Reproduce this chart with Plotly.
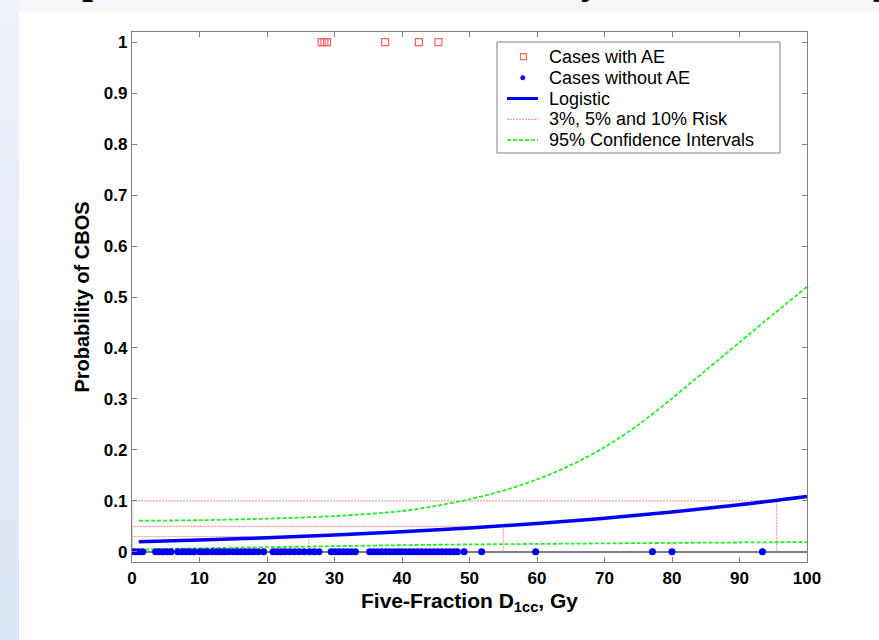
import plotly.graph_objects as go

# ---------------- data ----------------
ae_dose = [28.1, 28.5, 28.9, 37.5, 42.5, 45.4]
ae_prob = [1, 1, 1, 1, 1, 1]

no_ae_dose = [0.0, 0.5, 1.0, 1.6, 3.5, 4.0, 4.6, 5.2, 5.8, 6.8, 7.4, 8.0, 8.6, 9.2,
              10.0, 10.6, 11.2, 11.9, 12.5, 13.1, 13.7, 14.3, 15.0, 15.6, 16.2, 16.8,
              17.4, 18.0, 18.7, 19.5, 20.9, 21.5, 22.1, 22.7, 23.4, 24.1, 24.8, 25.5,
              26.3, 27.0, 27.7, 29.5, 30.1, 30.7, 31.3, 31.9, 32.5, 33.1, 35.2, 35.8,
              36.4, 37.0, 37.6, 38.2, 38.8, 39.4, 39.9, 40.5, 41.1, 41.7, 42.3, 42.9,
              43.5, 44.1, 44.7, 45.3, 45.9, 46.5, 47.1, 47.7, 48.2, 49.2, 51.8, 59.8,
              77.1, 80.0, 93.4]
no_ae_prob = [0] * len(no_ae_dose)

fit_dose = [1, 10, 20, 30, 40, 50, 60, 70, 80, 90, 100]
fit_prob = [0.0196, 0.0231, 0.0275, 0.0329, 0.0392, 0.0467, 0.0555, 0.0658, 0.0780,
            0.0922, 0.1087]

ci_dose = [1, 10, 20, 30, 40, 45, 50, 55, 60, 65, 70, 75, 80, 85, 90, 95, 100]
ci_upper = [0.061, 0.062, 0.065, 0.070, 0.080, 0.090, 0.103, 0.120, 0.142, 0.170,
            0.205, 0.249, 0.301, 0.356, 0.411, 0.466, 0.520]
ci_lower = [0.004, 0.007, 0.009, 0.011, 0.013, 0.0138, 0.0145, 0.015, 0.0155, 0.016,
            0.0165, 0.017, 0.0175, 0.018, 0.0183, 0.0187, 0.019]

risk_levels = [0.03, 0.05, 0.10]
risk_doses = [26.2, 55.0, 95.5]

x_ticks = [0, 10, 20, 30, 40, 50, 60, 70, 80, 90, 100]
y_ticks = [0, 0.1, 0.2, 0.3, 0.4, 0.5, 0.6, 0.7, 0.8, 0.9, 1]
y_tick_labels = ["0", "0.1", "0.2", "0.3", "0.4", "0.5", "0.6", "0.7", "0.8", "0.9", "1"]

legend_labels = ["Cases with AE", "Cases without AE", "Logistic",
                 "3%, 5% and 10% Risk", "95% Confidence Intervals"]

title_fragments = ["p", "y", "j"]

# ---------------- build paths ----------------
risk_x, risk_y = [], []
for p, d in zip(risk_levels, risk_doses):
    risk_x += [0, 0, d, d, None]
    risk_y += [0, p, p, 0, None]

ci_x = ci_dose + [None] + ci_dose
ci_y = ci_upper + [None] + ci_lower

# ---------------- geometry (pixels) ----------------
W, H = 879, 640
L, R, T, B = 132, 807, 32, 562


def px(x):
    return (x - L) / (R - L)


def py(y):
    return (B - y) / (B - T)


RED = "#ff6060"
PINK = "#ff9a9a"
GREEN = "#22ee22"
BLUE = "#0000ff"
GRAY = "#808080"

fig = go.Figure()

fig.add_trace(go.Scatter(
    x=risk_x, y=risk_y, mode="lines", name=legend_labels[3],
    line=dict(color=PINK, width=1.2, dash="2px,1px")))
fig.add_trace(go.Scatter(
    x=ci_x, y=ci_y, mode="lines", name=legend_labels[4],
    line=dict(color=GREEN, width=1.8, dash="4px,2px", shape="spline", smoothing=0.8)))
fig.add_trace(go.Scatter(
    x=fit_dose, y=fit_prob, mode="lines", name=legend_labels[2],
    line=dict(color=BLUE, width=3.5, shape="spline")))
fig.add_trace(go.Scatter(
    x=no_ae_dose, y=no_ae_prob, mode="markers", name=legend_labels[1],
    marker=dict(color="#0000ee", size=7, symbol="circle", line=dict(width=0))))
fig.add_trace(go.Scatter(
    x=ae_dose, y=ae_prob, mode="markers", name=legend_labels[0],
    marker=dict(color=RED, size=7, symbol="square-open", line=dict(width=1.2))))

shapes = []
annotations = []

# page background strips outside the white panel
shapes.append(dict(type="rect", xref="paper", yref="paper",
                   x0=px(0), x1=px(W), y0=py(12), y1=py(0),
                   fillcolor="#f4f6fb", line=dict(width=0), layer="below"))
nb = 32
c_top = (0xee, 0xf2, 0xfa)
c_bot = (0xdc, 0xe5, 0xf3)
for i in range(nb):
    t = (i + 0.5) / nb
    c = tuple(round(a + (b - a) * t) for a, b in zip(c_top, c_bot))
    shapes.append(dict(type="rect", xref="paper", yref="paper",
                       x0=px(0), x1=px(19),
                       y0=py(H * (i + 1) / nb), y1=py(H * i / nb),
                       fillcolor="rgb(%d,%d,%d)" % c, line=dict(width=0),
                       layer="below"))

# cut-off title text at the top of the page (only descenders visible)
for txt, xl in zip(title_fragments, [81, 580, 872]):
    annotations.append(dict(xref="paper", yref="paper", x=px(xl), y=py(3),
                            xanchor="left", yanchor="bottom", showarrow=False,
                            text=txt, borderpad=0,
                            font=dict(family="Liberation Serif", size=40,
                                      color="black", weight="bold")))

# legend box
LX0, LX1, LY0, LY1 = 497, 780, 42, 153
rows = [56.7, 77.7, 98.5, 119.3, 140.2]
shapes.append(dict(type="rect", xref="paper", yref="paper",
                   x0=px(LX0), x1=px(LX1), y0=py(LY1), y1=py(LY0),
                   fillcolor="white", line=dict(color=GRAY, width=1), layer="above"))
# key: square
shapes.append(dict(type="rect", xref="paper", yref="paper",
                   x0=px(520.5), x1=px(526.5), y0=py(rows[0] + 3), y1=py(rows[0] - 3),
                   line=dict(color=RED, width=1.2), fillcolor="rgba(0,0,0,0)",
                   layer="above"))
# key: dot
shapes.append(dict(type="circle", xref="paper", yref="paper",
                   x0=px(520.5), x1=px(525), y0=py(rows[1] + 2.25), y1=py(rows[1] - 2.25),
                   line=dict(color="#0000ee", width=0.5), fillcolor="#0000ee",
                   layer="above"))
# key: lines
key_lines = [(rows[2], BLUE, 3, "solid"), (rows[3], PINK, 1.2, "2px,1px"),
             (rows[4], GREEN, 1.8, "4px,2px")]
for yy, col, wd, ds in key_lines:
    shapes.append(dict(type="line", xref="paper", yref="paper",
                       x0=px(507), x1=px(538), y0=py(yy), y1=py(yy),
                       line=dict(color=col, width=wd, dash=ds), layer="above"))
for lab, yy in zip(legend_labels, rows):
    annotations.append(dict(xref="paper", yref="paper", x=px(548), y=py(yy),
                            xanchor="left", yanchor="middle", showarrow=False,
                            text=lab, borderpad=0,
                            font=dict(family="Liberation Sans", size=18,
                                      color="black")))

tickfont = dict(family="Liberation Sans", size=17, color="black", weight="bold")

fig.update_layout(
    width=W, height=H, autosize=False,
    margin=dict(l=L, r=W - R, t=T, b=H - B, pad=0),
    paper_bgcolor="white", plot_bgcolor="white",
    shapes=shapes, annotations=annotations,
    showlegend=False,
    xaxis=dict(range=[0, 100], tickvals=x_ticks, ticks="inside", ticklen=5,
               tickcolor=GRAY, showline=True, linecolor=GRAY, linewidth=1.3,
               mirror="ticks", showgrid=False, zeroline=False, tickfont=tickfont,
               title=dict(text="Five-Fraction D<sub>1cc</sub>, Gy", standoff=6,
                          font=dict(family="Liberation Sans", size=21, color="black",
                                    weight="bold"))),
    yaxis=dict(range=[-0.02, 1.02], tickvals=y_ticks, ticktext=y_tick_labels,
               ticks="inside", ticklen=5, tickcolor=GRAY, showline=True,
               linecolor=GRAY, linewidth=1.3, mirror="ticks", showgrid=False,
               zeroline=True, zerolinecolor=GRAY, zerolinewidth=1.5,
               tickfont=tickfont,
               title=dict(text="Probability of CBOS", standoff=8,
                          font=dict(family="Liberation Sans", size=20, color="black",
                                    weight="bold"))),
)

fig.write_html("out.html")
